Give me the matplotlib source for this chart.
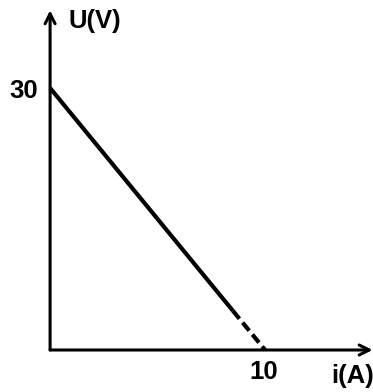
import matplotlib.pyplot as plt

# current (A) and voltage (V) at the two ends of the characteristic
i_vals = [0, 8.5, 10]
u_vals = [30, 4.5, 0]
u_tick = 30
i_tick = 10

fig = plt.figure(figsize=(3.73, 3.92), dpi=100)
ax = fig.add_axes([0, 0, 1, 1])
ax.set_xlim(-2.33, 15.02)
ax.set_ylim(-4.81, 40.08)
ax.axis('off')

font = dict(family=['Liberation Sans Narrow', 'Liberation Sans', 'DejaVu Sans'],
            weight='bold', fontsize=18.5)

# axes with arrows
ax.annotate('', xy=(15.0, 0), xytext=(0, 0),
            arrowprops=dict(arrowstyle='->', lw=2.2, color='black',
                            mutation_scale=18, shrinkA=0, shrinkB=0))
ax.annotate('', xy=(0, 38.9), xytext=(0, 0),
            arrowprops=dict(arrowstyle='->', lw=2.2, color='black',
                            mutation_scale=18, shrinkA=0, shrinkB=0))

# solid part of the line, then dashed down to the axis
ax.plot(i_vals[:2], u_vals[:2], color='black', lw=3, solid_capstyle='butt')
ax.plot(i_vals[1:], u_vals[1:], color='black', lw=3, linestyle=(0, (2.5, 1.2)))

ax.text(-0.55, u_tick - 0.3, str(u_tick), ha='right', va='center', **font)
ax.text(i_tick - 0.05, -1.2, str(i_tick), ha='center', va='top', **font)
ax.text(0.85, 39.0, 'U(V)', ha='left', va='top', **font)
ax.text(15.05, -1.6, 'i(A)', ha='right', va='top', **font)

fig.savefig('out.png', dpi=100)
